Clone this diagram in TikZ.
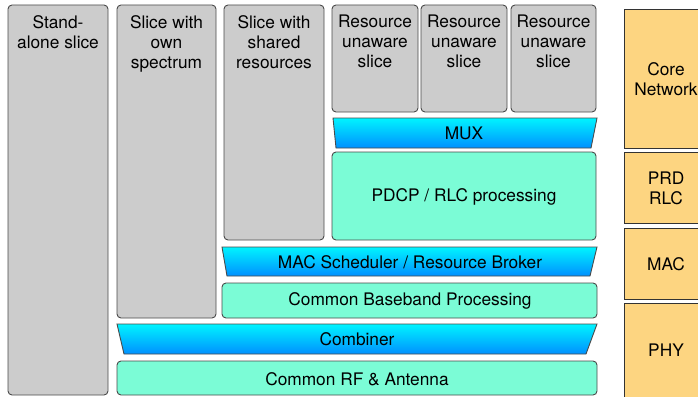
\documentclass[tikz,border=0pt]{standalone}
\usepackage{fontspec}
\setmainfont{TeX Gyre Heros}
\definecolor{sgray}{HTML}{CCCCCC}
\definecolor{sedge}{HTML}{4A4A4A}
\definecolor{teal1}{HTML}{7BFCD6}
\definecolor{cyantop}{HTML}{00F4FF}
\definecolor{bluebot}{HTML}{0090FF}
\definecolor{orng}{HTML}{FDD581}
\begin{document}
\begin{tikzpicture}[x=1pt,y=-1pt,
  every node/.style={font=\fontsize{17.3}{20}\selectfont, align=center, inner sep=0pt},
  slicebox/.style={draw=sedge, fill=sgray, line width=0.9pt, rounded corners=4pt},
  procbox/.style={draw=sedge, fill=teal1, line width=0.9pt, rounded corners=4pt},
  trapbox/.style={draw=sedge, line width=0.9pt, top color=cyantop, bottom color=bluebot},
  layerbox/.style={draw=black!80, fill=orng, line width=0.9pt}]
\clip (0,0) rectangle (698,396);
\path[use as bounding box] (0,0) rectangle (698,396);
% slices
\draw[slicebox] (8,5) rectangle (108,395);
\node[anchor=north] (sa) at (58,15) {Stand-\\alone slice};
\draw[slicebox] (117,5) rectangle (216,318);
\node[anchor=north] (os) at (166.5,15) {Slice with\\own\\spectrum};
\draw[slicebox] (224,5) rectangle (324,240);
\node[anchor=north] (ss) at (274,15) {Slice with\\shared\\resources};
\draw[slicebox] (332,5) rectangle (418,112);
\node[anchor=north] (ru1) at (375,15) {Resource\\unaware\\slice};
\draw[slicebox] (421,5) rectangle (507,112);
\node[anchor=north] (ru2) at (464,15) {Resource\\unaware\\slice};
\draw[slicebox] (511,5) rectangle (596,112);
\node[anchor=north] (ru3) at (553.5,15) {Resource\\unaware\\slice};
% MUX
\path[trapbox] (333,118) -- (597,118) -- (591,148) -- (336,148) -- cycle;
\node (mux) at (464,133) {MUX};
% PDCP
\draw[procbox] (332,152) rectangle (596,240);
\node (pdcp) at (464,197) {PDCP / RLC processing};
% MAC scheduler
\path[trapbox] (222,247) -- (597,247) -- (590,276) -- (227,276) -- cycle;
\node (mac) at (410,262) {MAC Scheduler / Resource Broker};
% baseband
\draw[procbox] (222,283) rectangle (597,318);
\node (bb) at (410,301) {Common Baseband Processing};
% combiner
\path[trapbox] (117,324) -- (597,324) -- (586,354) -- (124,354) -- cycle;
\node (comb) at (357,339) {Combiner};
% RF
\draw[procbox] (117,361) rectangle (597,395);
\node (rf) at (357,379) {Common RF \& Antenna};
% layers
\draw[layerbox] (624,9) rectangle (710,148);
\node (core) at (666,79) {Core\\Network};
\draw[layerbox] (624,152) rectangle (710,223);
\node (prd) at (666,188) {PRD\\RLC};
\draw[layerbox] (624,228) rectangle (710,299);
\node (lmac) at (666,264) {MAC};
\draw[layerbox] (624,303) rectangle (710,400);
\node (phy) at (666,350) {PHY};
\end{tikzpicture}
\end{document}
